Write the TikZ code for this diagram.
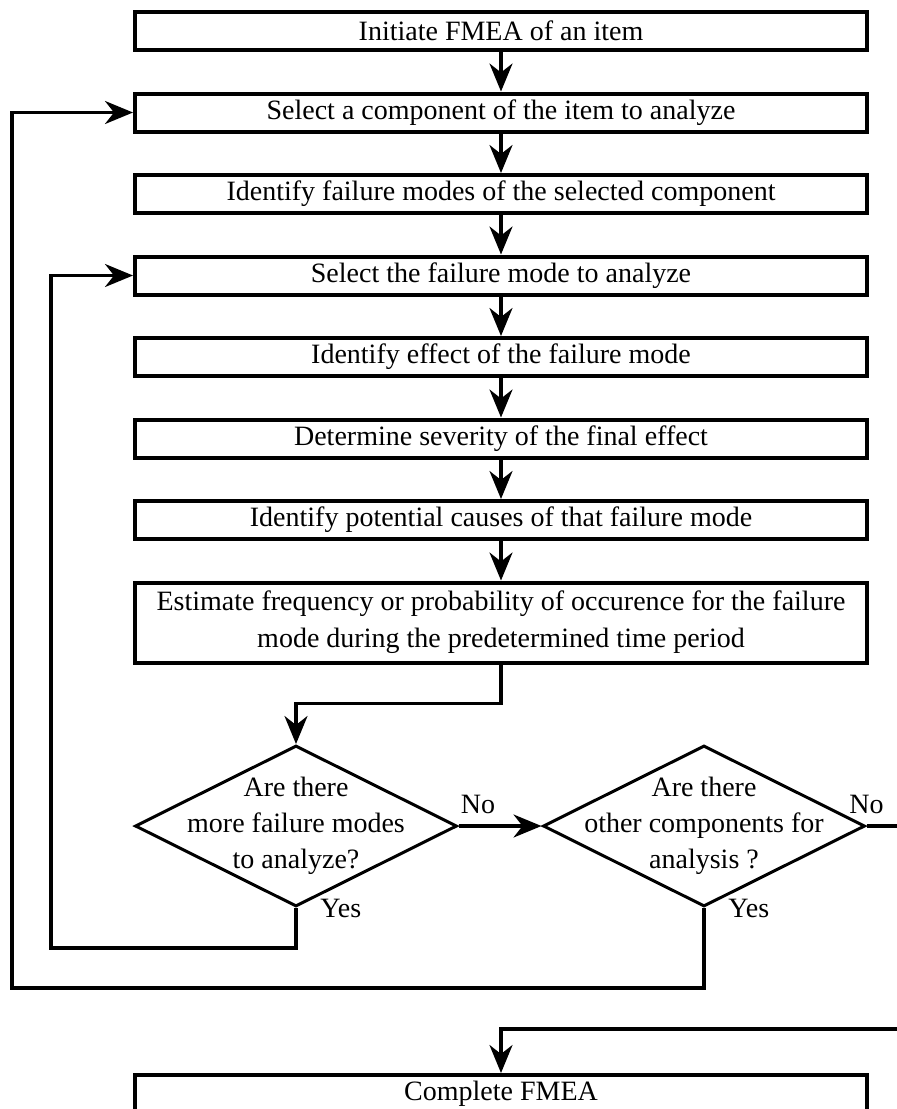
\documentclass[tikz,border=0pt]{standalone}
\usepackage{fontspec}
\setmainfont{Liberation Serif}
\usetikzlibrary{arrows.meta,positioning,calc,shapes.geometric}
\begin{document}
\begin{tikzpicture}[x=0.5pt,y=-0.5pt,>={Stealth[length=14pt,width=11.5pt,inset=4.5pt]},node distance=19.75pt,
stepbox/.style={draw,line width=2pt,minimum width=366pt,minimum height=19pt,inner sep=2pt,align=center,font=\fontsize{14}{18.5}\selectfont},
decision/.style={draw,diamond,line width=1.5pt,minimum width=161pt,minimum height=80.5pt,inner sep=0pt},
qtext/.style={align=center,font=\fontsize{14}{18}\selectfont,inner sep=0pt},
flow/.style={->,line width=1.6pt},link/.style={line width=1.6pt},
lab/.style={font=\fontsize{14}{16}\selectfont,inner sep=1pt}]
\useasboundingbox[fill=white] (0,0) rectangle (897,1109);
\node[stepbox] (b1) at (501,31) {Initiate FMEA of an item};
\node[stepbox,below=of b1] (b2) {Select a component of the item to analyze};
\node[stepbox,below=of b2] (b3) {Identify failure modes of the selected component};
\node[stepbox,below=of b3] (b4) {Select the failure mode to analyze};
\node[stepbox,below=of b4] (b5) {Identify effect of the failure mode};
\node[stepbox,below=of b5] (b6) {Determine severity of the final effect};
\node[stepbox,below=of b6] (b7) {Identify potential causes of that failure mode};
\node[stepbox,below=of b7,minimum height=40pt] (b8) {Estimate frequency or probability of occurence for the failure\\mode during the predetermined time period};
\node[decision] (q1) at (296,826) {};
\node[qtext] (q1t) at (q1) {Are there\\more failure modes\\to analyze?};
\node[decision,right=41.5pt of q1] (q2) {};
\node[qtext] (q2t) at (q2) {Are there\\other components for\\analysis ?};
\node[stepbox] (done) at (501,1094) {Complete FMEA};
\coordinate (exitR) at (900,826);
\coordinate (entR) at (900,1029);
\draw[flow] (b1)--(b2); \draw[flow] (b2)--(b3);
\draw[flow] (b3)--(b4); \draw[flow] (b4)--(b5);
\draw[flow] (b5)--(b6); \draw[flow] (b6)--(b7);
\draw[flow] (b7)--(b8);
\draw[flow] (b8.south)--++(0,39)-|(q1.north);
\draw[flow] (q1.east)--(q2.west);
\node[lab,above right=5pt and 0pt of q1.east] (no1) {No};
\node[lab,above=5pt of q2.east] (no2) {No};
\draw[link] (q2.east)--(exitR);
\draw[flow] (q1.south)--++(0,40)-|([xshift=-41pt]b4.west)--(b4.west);
\node[lab,anchor=west] (yes1) at ([xshift=11pt]q1.south) {Yes};
\draw[flow] (q2.south)--++(0,80)-|([xshift=-60.5pt]b2.west)--(b2.west);
\node[lab,anchor=west] (yes2) at ([xshift=11pt]q2.south) {Yes};
\draw[flow] (entR)-|(done.north);
\end{tikzpicture}
\end{document}
